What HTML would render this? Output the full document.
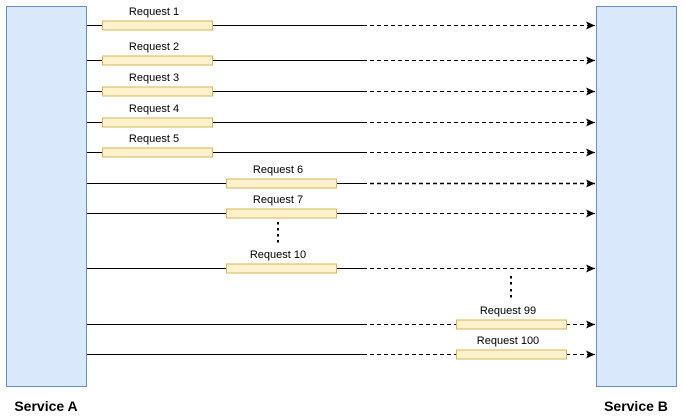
<!DOCTYPE html>
<html><head><meta charset="utf-8"><style>
html,body{margin:0;padding:0;background:#fff;width:683px;height:418px;overflow:hidden}
svg{display:block}
text{font-family:"Liberation Sans",Arial,sans-serif;fill:#000}
</style></head><body>
<svg width="683" height="418" viewBox="0 0 683 418" xmlns="http://www.w3.org/2000/svg">
<defs><marker id="a" markerWidth="10" markerHeight="8" refX="9" refY="4" orient="auto" markerUnits="userSpaceOnUse"><path d="M0,0 L9,4 L0,8 L2,4 Z" fill="#000"/></marker></defs>
<rect x="6.5" y="6.5" width="80" height="380" fill="#dae8fc" stroke="#6c8ebf"/>
<rect x="596.5" y="6.5" width="80" height="380" fill="#dae8fc" stroke="#6c8ebf"/>
<text x="46" y="411" font-size="14" font-weight="bold" text-anchor="middle">Service A</text>
<text x="636" y="411" font-size="14" font-weight="bold" text-anchor="middle">Service B</text>
<g stroke="#000" stroke-width="1" fill="none">
<path d="M87 25.5H367M87 60.5H367M87 91.5H367M87 122.5H367M87 152.5H367M87 183.5H367M87 213.5H367M87 268.5H367M87 324.5H367M87 354.5H367"/>
<g stroke-dasharray="4,3" marker-end="url(#a)">
<path d="M370 25.5H595"/><path d="M370 60.5H595"/><path d="M370 91.5H595"/><path d="M370 122.5H595"/><path d="M370 152.5H595"/><path d="M370 183.5H595" stroke-width="1.4"/><path d="M370 213.5H595"/><path d="M370 268.5H595"/><path d="M370 324.5H595"/><path d="M370 354.5H595"/>
</g>
</g>
<g fill="#fff2cc" stroke="#d6b656">
<rect x="102.5" y="21" width="110" height="9"/>
<rect x="102.5" y="56" width="110" height="9"/>
<rect x="102.5" y="87" width="110" height="9"/>
<rect x="102.5" y="118" width="110" height="9"/>
<rect x="102.5" y="148" width="110" height="9"/>
<rect x="226.5" y="179" width="110" height="9"/>
<rect x="226.5" y="209" width="110" height="9"/>
<rect x="226.5" y="264" width="110" height="9"/>
<rect x="456.5" y="320" width="110" height="9"/>
<rect x="456.5" y="350" width="110" height="9"/>
</g>
<g font-size="11" text-anchor="middle">
<text x="154" y="15">Request 1</text>
<text x="154" y="50">Request 2</text>
<text x="154" y="81">Request 3</text>
<text x="154" y="112">Request 4</text>
<text x="154" y="142">Request 5</text>
<text x="278" y="173">Request 6</text>
<text x="278" y="203">Request 7</text>
<text x="278" y="258">Request 10</text>
<text x="508" y="314">Request 99</text>
<text x="508" y="344">Request 100</text>
</g>
<g fill="#000">
<rect x="277" y="222" width="2" height="2.5"/><rect x="277" y="228" width="2" height="2.5"/><rect x="277" y="234" width="2" height="2.5"/><rect x="277" y="240" width="2" height="2.5"/>
<rect x="510" y="276" width="2" height="2.5"/><rect x="510" y="282" width="2" height="2.5"/><rect x="510" y="289" width="2" height="2.5"/><rect x="510" y="295" width="2" height="2.5"/>
</g>
</svg>
</body></html>
